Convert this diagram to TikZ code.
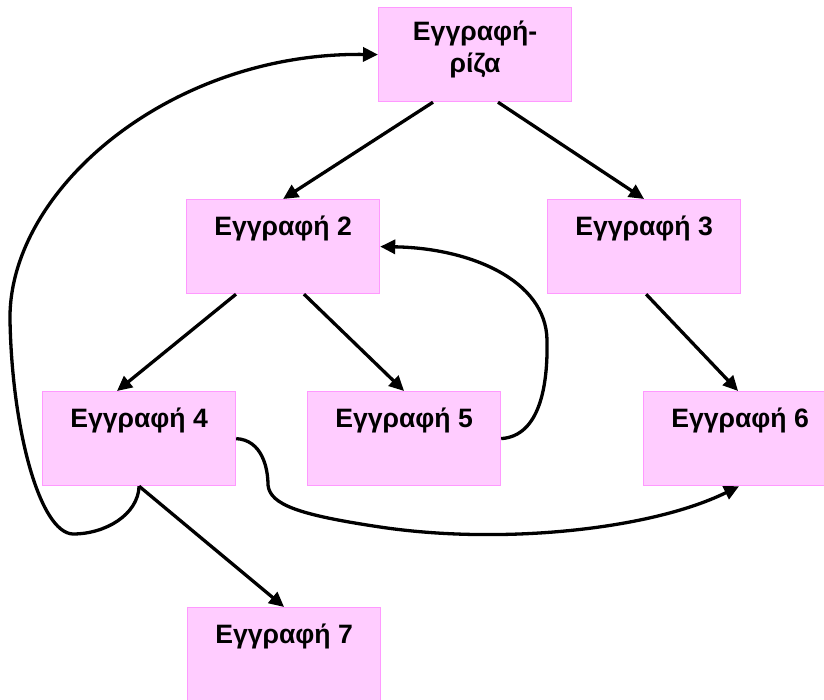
\documentclass[tikz,border=0pt]{standalone}
\usepackage{fontspec}
\setmainfont{Liberation Sans}
\usetikzlibrary{arrows.meta,calc}
\definecolor{boxfill}{HTML}{FFCCFF}
\definecolor{boxline}{HTML}{FF99FF}
\tikzset{
  recbox/.style={draw=boxline, fill=boxfill, line width=1.2pt,
    minimum width=193pt, minimum height=94pt, inner sep=0pt, anchor=north west},
  rectext/.style={font=\fontsize{26.6}{31.5}\selectfont\bfseries, anchor=base, inner sep=0pt},
  link/.style={line width=3.3pt, -{Triangle[length=15pt,width=14pt]}},
}
\begin{document}
\begin{tikzpicture}[x=1pt,y=-1pt]
\useasboundingbox (0,0) rectangle (824,699);
\clip (0,0) rectangle (824,699);

% record boxes
\node[recbox] (r)  at (378,7)   {};
\node[recbox] (e2) at (186,199) {};
\node[recbox] (e3) at (547,199) {};
\node[recbox] (e4) at (42,391)  {};
\node[recbox] (e5) at (307,391) {};
\node[recbox] (e6) at (643,391) {};
\node[recbox] (e7) at (187,607) {};

% record titles
\node[rectext] (rt1) at ($(r.north)+(0,33)$)  {Εγγραφή-};
\node[rectext] (rt2) at ($(r.north)+(0,65)$)  {ρίζα};
\node[rectext] (t2)  at ($(e2.north)+(0,36)$) {Εγγραφή 2};
\node[rectext] (t3)  at ($(e3.north)+(0,36)$) {Εγγραφή 3};
\node[rectext] (t4)  at ($(e4.north)+(0,36)$) {Εγγραφή 4};
\node[rectext] (t5)  at ($(e5.north)+(0,36)$) {Εγγραφή 5};
\node[rectext] (t6)  at ($(e6.north)+(0,36)$) {Εγγραφή 6};
\node[rectext] (t7)  at ($(e7.north)+(0,36)$) {Εγγραφή 7};

% tree links
\draw[link] ($(r.south west)+(55,0)$)   -- (e2.north);
\draw[link] ($(r.south west)+(120,0)$)  -- (e3.north);
\draw[link] ($(e2.south west)+(50,0)$)  -- ($(e4.north west)+(75,0)$);
\draw[link] ($(e2.south west)+(118,0)$) -- (e5.north);
\draw[link] ($(e3.south)+(2,0)$)        -- ($(e6.north)+(-2,0)$);
\draw[link] (e4.south) -- (e7.north);

% cross links
\draw[link] (e5.east) .. controls (540,436) and (548,385) .. (547,340)
            .. controls (546,280) and (470,248) .. (e2.east);
\draw[link] (e4.east) .. controls (262,440) and (268,468) .. (268,485)
            .. controls (270,505) and (300,515) .. (380,527)
            .. controls (500,545) and (650,530) .. ($(e6.south)+(-1,0)$);
\draw[link] (e4.south) .. controls (138,515) and (105,534) .. (73,534)
            .. controls (40,533) and (12,430) .. (10,320)
            .. controls (8,190) and (170,52) .. (r.west);
\end{tikzpicture}
\end{document}
